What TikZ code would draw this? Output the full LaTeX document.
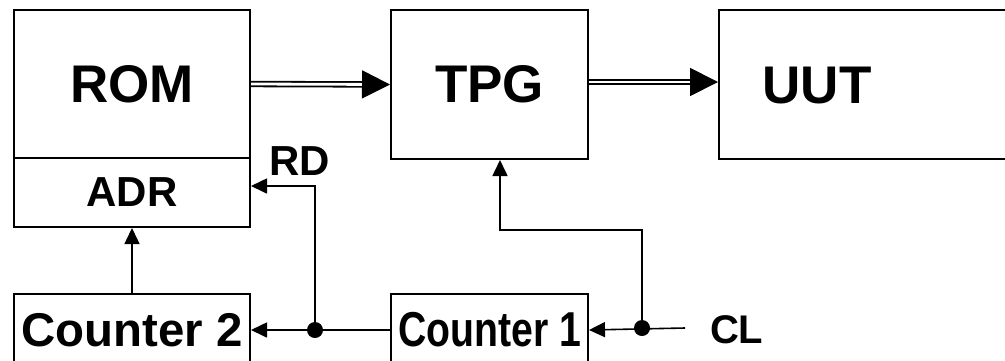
\documentclass[tikz,border=0pt]{standalone}
\usepackage{fontspec}
\setmainfont{Liberation Sans}
\usetikzlibrary{arrows.meta}

\tikzset{
  blk/.style={draw,line width=1pt,inner sep=0pt,font=\bfseries},
  arr/.style={line width=0.8pt,-{Triangle[length=8pt,width=7.5pt]}},
  dbl/.style={line width=0.9pt,double,double distance=1.4pt,-{Triangle[length=14pt,width=14pt]}},
  dot/.style={circle,fill,inner sep=0pt,minimum size=8pt}
}

\begin{document}
\begin{tikzpicture}[x=0.5pt,y=-0.5pt]
  \clip (0,0) rectangle (1005,360);
  % top row
  \node[blk,minimum width=118pt,minimum height=74pt,font=\bfseries\fontsize{26.5}{30}\selectfont] (rom) at (132,84) {ROM};
  \node[blk,minimum width=118pt,minimum height=34.5pt,font=\bfseries\fontsize{21}{24}\selectfont] (adr) at (132,192.5) {ADR};
  \node[blk,minimum width=98.5pt,minimum height=74.5pt,font=\bfseries\fontsize{26.5}{30}\selectfont] (tpg) at (489.5,84.5) {TPG};
  \node[blk,minimum width=151pt,minimum height=74.5pt,anchor=west] (uut) at (718,84.5) {};
  \node[font=\bfseries\fontsize{26.5}{30}\selectfont] (uuttxt) at (817,86) {UUT};
  % counters
  \node[blk,minimum width=118pt,minimum height=36pt,font=\bfseries\fontsize{23.7}{26}\selectfont] (cnt2) at (132,330) {Counter 2};
  \node[blk,minimum width=98.5pt,minimum height=36pt,font=\bfseries\fontsize{24.5}{26}\selectfont] (cnt1) at (489.5,330) {\scalebox{0.8}[1]{Counter 1}};
  % junctions
  \coordinate (cl) at (685,328);
  \node[dot] (j1) at (315,330) {};
  \node[dot] (j2) at (642,328) {};
  \coordinate (bend) at (500,230);
  % data paths
  \draw[dbl] (rom.east) -- (tpg.west);
  \draw[dbl] ([yshift=1.25pt]tpg.east) -- ([yshift=1.25pt]uut.west);
  % control lines
  \draw[arr] (cnt2) -- (adr);
  \draw[arr] (cnt1.west) -- (cnt2.east);
  \draw[arr] (j1.center) |- ([yshift=3.25pt]adr.east);
  \draw[arr] (cl) -- (cnt1.east);
  \draw[arr] (j2.center) |- (bend) -- (bend |- tpg.south);
  % labels
  \node[font=\bfseries\fontsize{21}{24}\selectfont] (rd) at (300,161) {RD};
  \node[font=\bfseries\fontsize{20}{24}\selectfont,anchor=west] (cltxt) at (703,330) {CL};
\end{tikzpicture}
\end{document}
